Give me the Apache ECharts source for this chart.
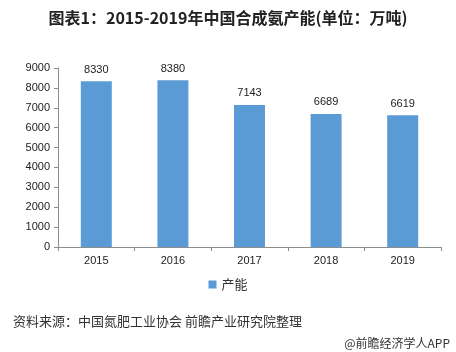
<!DOCTYPE html>
<html>
<head>
<meta charset="utf-8">
<script src="https://cdn.jsdelivr.net/npm/echarts@6/dist/echarts.min.js"></script>
<style>
  html, body { margin: 0; padding: 0; background: #fff; }
  #chart { width: 456px; height: 352px; }
</style>
</head>
<body>
<div id="chart"></div>
<script>
// data
const years = ['2015', '2016', '2017', '2018', '2019']
const capacity = [8330, 8380, 7143, 6689, 6619]
const seriesName = '产能'

const chartDom = document.getElementById('chart')
const myChart = echarts.init(chartDom)
const font = '"Microsoft YaHei", "Noto Sans CJK SC", sans-serif'

const option = {
  backgroundColor: '#fff',
  title: [
    {
      text: '图表1：2015-2019年中国合成氨产能(单位：万吨)',
      left: 'center',
      top: 5,
      textStyle: { fontSize: 16, fontWeight: 'bold', color: '#222', fontFamily: font }
    },
    {
      text: '资料来源：中国氮肥工业协会 前瞻产业研究院整理',
      left: 8,
      top: 310,
      textStyle: { fontSize: 13, fontWeight: 'normal', color: '#333', fontFamily: font }
    },
    {
      text: '@前瞻经济学人APP',
      right: 1,
      top: 332,
      textStyle: { fontSize: 12, fontWeight: 'normal', color: '#333', fontFamily: font }
    }
  ],
  legend: {
    data: [seriesName],
    left: 'center',
    top: 273,
    itemWidth: 8,
    itemHeight: 8,
    itemGap: 4,
    icon: 'rect',
    textStyle: { fontSize: 13, color: '#333', fontFamily: font }
  },
  grid: {
    left: 58,
    right: 15,
    top: 68,
    bottom: 105
  },
  xAxis: {
    type: 'category',
    data: years,
    axisLine: { lineStyle: { color: '#8c8c8c' } },
    axisTick: { show: true, alignWithLabel: false, length: 4, lineStyle: { color: '#8c8c8c' } },
    axisLabel: { fontSize: 11, color: '#222', margin: 8, fontFamily: 'Liberation Sans, sans-serif' }
  },
  yAxis: {
    type: 'value',
    min: 0,
    max: 9000,
    interval: 1000,
    axisLine: { show: true, lineStyle: { color: '#8c8c8c' } },
    axisTick: { show: true, length: 4, lineStyle: { color: '#8c8c8c' } },
    splitLine: { show: false },
    axisLabel: {
      fontSize: 11,
      color: '#222',
      margin: 8,
      fontFamily: 'Liberation Sans, sans-serif',
      formatter: function (v) { return String(v) }
    }
  },
  series: [
    {
      name: seriesName,
      type: 'bar',
      data: capacity,
      barWidth: 31,
      itemStyle: { color: '#5b9bd5' },
      label: {
        show: true,
        position: 'top',
        distance: 6,
        fontSize: 11,
        color: '#222',
        fontFamily: 'Liberation Sans, sans-serif'
      }
    }
  ]
}
option && myChart.setOption(option)
</script>
</body>
</html>
